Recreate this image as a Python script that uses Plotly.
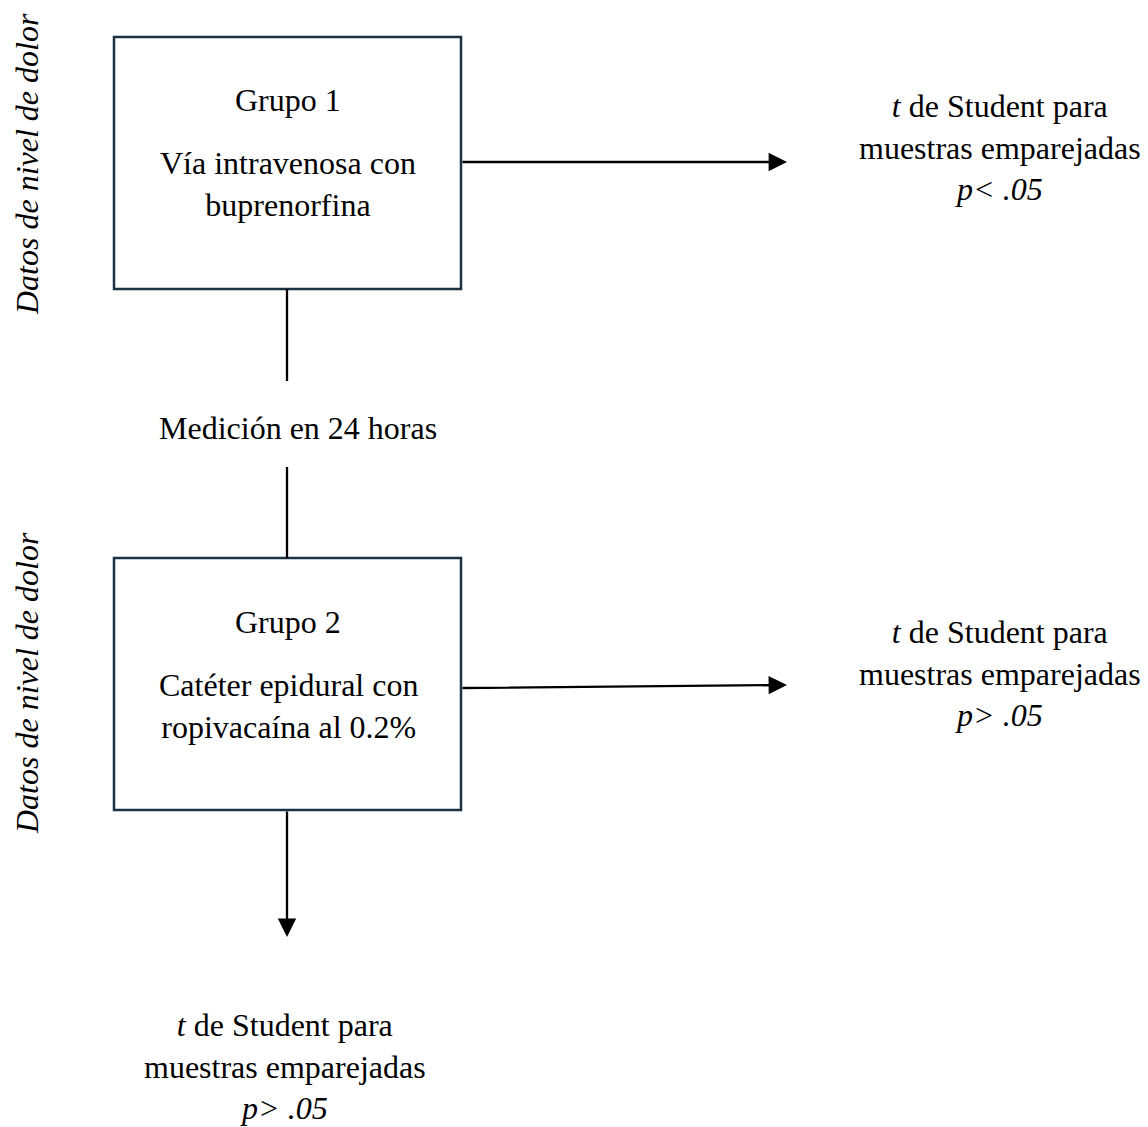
import plotly.graph_objects as go

# ---- content ----
group_titles = ["Grupo 1", "Grupo 2"]
group_descs = ["Vía intravenosa con<br>buprenorfina", "Catéter epidural con<br>ropivacaína al 0.2%"]
side_label = "Datos de nivel de dolor"
middle_label = "Medición en 24 horas"
test_label = "<i>t</i> de Student para<br>muestras emparejadas"
p_values = ["<i>p< .05</i>", "<i>p> .05</i>", "<i>p> .05</i>"]

# ---- layout geometry (pixel coordinates of the page) ----
W, H = 1148, 1127
PAGE_MARGIN = 8  # default body margin of the html page
box_x0, box_x1 = 114, 461
box_y = [(37, 289), (558, 810)]
cx = 287
FONT = "Liberation Serif, Times New Roman, serif"
FS = 32
BOX_COLOR = "#1c3142"

fig = go.Figure()
fig.add_trace(go.Scatter(x=[PAGE_MARGIN, W], y=[PAGE_MARGIN, H], mode="markers",
                         marker=dict(opacity=0), hoverinfo="skip", showlegend=False))

shapes = []
annotations = []

# boxes
for (y0, y1) in box_y:
    shapes.append(dict(type="rect", x0=box_x0, x1=box_x1, y0=y0, y1=y1,
                       line=dict(color=BOX_COLOR, width=2.5), fillcolor="rgba(0,0,0,0)"))

# connector lines between boxes
shapes.append(dict(type="line", x0=cx, x1=cx, y0=box_y[0][1], y1=381,
                   line=dict(color="black", width=2.3)))
shapes.append(dict(type="line", x0=cx, x1=cx, y0=467, y1=box_y[1][0],
                   line=dict(color="black", width=2.3)))

# arrows
arrows = [
    ((box_x1, 162), (787, 162)),
    ((box_x1, 688), (787, 685)),
    ((cx, box_y[1][1]), (cx, 937)),
]
for (sx, sy), (tx, ty) in arrows:
    annotations.append(dict(x=tx, y=ty, ax=sx, ay=sy, xref="x", yref="y",
                            axref="x", ayref="y", text="", showarrow=True,
                            arrowhead=2, arrowsize=1.6, arrowwidth=2.3,
                            arrowcolor="black", standoff=0, startstandoff=0))

def txt(x, y, text, angle=0):
    annotations.append(dict(x=x, y=y, xref="x", yref="y", text=text, showarrow=False,
                            xanchor="center", yanchor="middle", align="center",
                            textangle=angle,
                            font=dict(family=FONT, size=FS, color="black")))

# box texts
title_y = [100, 622]
desc_y = [184, 706]
for i in range(2):
    txt(cx + 1, title_y[i], group_titles[i])
    txt(cx + 1, desc_y[i], group_descs[i])

# side labels
txt(27, 164, "<i>" + side_label + "</i>", angle=-90)
txt(27, 683, "<i>" + side_label + "</i>", angle=-90)

# middle label
txt(298, 428, middle_label)

# test result texts
result_pos = [(1000, 147), (1000, 673), (285, 1066)]
for (x, y), p in zip(result_pos, p_values):
    txt(x, y, test_label + "<br>" + p)

fig.update_layout(
    width=W - PAGE_MARGIN, height=H - PAGE_MARGIN,
    margin=dict(l=0, r=0, t=0, b=0),
    paper_bgcolor="white", plot_bgcolor="white",
    xaxis=dict(range=[PAGE_MARGIN, W], visible=False, fixedrange=True),
    yaxis=dict(range=[H, PAGE_MARGIN], visible=False, fixedrange=True),
    shapes=shapes, annotations=annotations, showlegend=False,
)

fig.write_html("out.html")
